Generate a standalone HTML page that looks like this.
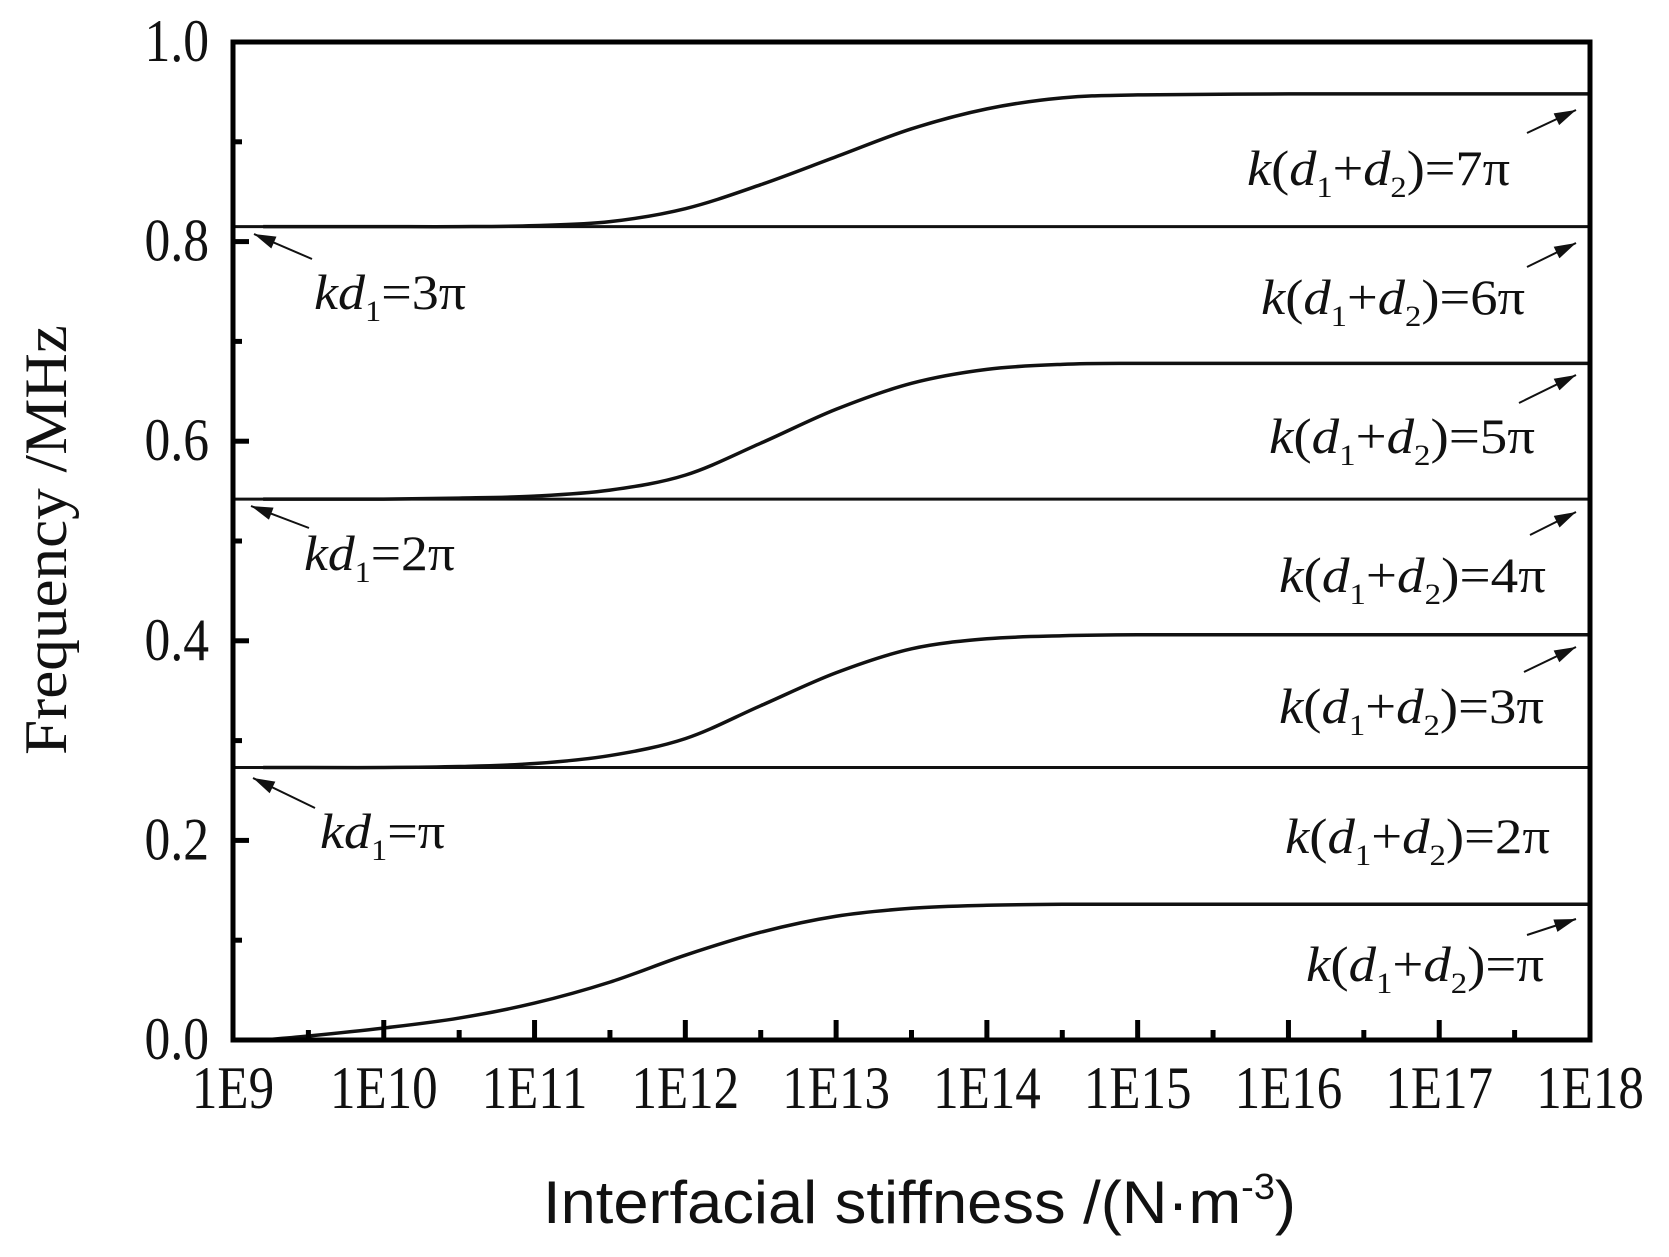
<!DOCTYPE html>
<html><head><meta charset="utf-8"><style>
html,body{margin:0;padding:0;background:#fff;}
svg{display:block;}
.tk{font-family:"Liberation Serif",serif;font-size:60px;fill:#111;}
.an{font-family:"Liberation Serif",serif;font-size:50px;fill:#111;}
</style></head><body>
<svg id="chart" width="1669" height="1257" viewBox="0 0 1669 1257" xmlns="http://www.w3.org/2000/svg">
<defs><marker id="ah" markerWidth="10" markerHeight="8" refX="9" refY="4" orient="auto" markerUnits="userSpaceOnUse"><path d="M0,0 L22,4 L0,8 z" transform="scale(0.45,1)"/></marker>
<marker id="ah2" viewBox="0 0 20 12" markerWidth="26" markerHeight="14" refX="20" refY="6" orient="auto" markerUnits="userSpaceOnUse"><path d="M0,0 L20,6 L0,12 z" fill="#111"/></marker></defs>
<g id="grid"></g>
<g id="marks"></g>
<g id="axes"></g>
<g id="labels"></g>
</svg>
<script>
const xDecades = [9,10,11,12,13,14,15,16,17,18];
const xTickLabels = ["1E9","1E10","1E11","1E12","1E13","1E14","1E15","1E16","1E17","1E18"];
const yTicks = [0,0.2,0.4,0.6,0.8,1.0];
const yTickLabels = ["0.0","0.2","0.4","0.6","0.8","1.0"];
const flatLevels = [0.273,0.542,0.815];
const curveX = [9.2,9.5,10,10.5,11,11.5,12,12.5,13,13.5,14,14.5,15,16,17,18];
const curve1 = [0.0,0.004,0.012,0.022,0.037,0.058,0.085,0.108,0.124,0.132,0.135,0.136,0.136,0.136,0.136,0.136];
const curve2 = [0.273,0.273,0.273,0.274,0.277,0.285,0.302,0.335,0.368,0.392,0.402,0.405,0.406,0.406,0.406,0.406];
const curve3 = [0.542,0.542,0.542,0.543,0.545,0.551,0.566,0.598,0.632,0.658,0.672,0.677,0.678,0.678,0.678,0.678];
const curve4 = [0.815,0.815,0.815,0.815,0.816,0.820,0.833,0.857,0.885,0.913,0.933,0.944,0.947,0.948,0.948,0.948];

const NS="http://www.w3.org/2000/svg";
const X0=233,X1=1590,Y0=1040,Y1=42;
function sx(d){return X0+(d-9)/9*(X1-X0);}
function sy(v){return Y0-v*(Y0-Y1);}
function el(tag,attrs,parent){const e=document.createElementNS(NS,tag);for(const k in attrs)e.setAttribute(k,attrs[k]);parent.appendChild(e);return e;}
const marks=document.getElementById('marks'),axes=document.getElementById('axes'),labels=document.getElementById('labels');

flatLevels.forEach((v,i)=>{
  const l=el('line',{x1:X0,x2:X1,y1:sy(v),y2:sy(v),stroke:'#111','stroke-width':3},marks);
  
  
});
function pathFor(xs,ys){
  const p=xs.map((x,i)=>[sx(x),sy(ys[i])]);
  let d='M'+p[0][0]+','+p[0][1];
  for(let i=0;i<p.length-1;i++){
    const p0=p[Math.max(0,i-1)],p1=p[i],p2=p[i+1],p3=p[Math.min(p.length-1,i+2)];
    const c1=[p1[0]+(p2[0]-p0[0])/6,p1[1]+(p2[1]-p0[1])/6];
    const c2=[p2[0]-(p3[0]-p1[0])/6,p2[1]-(p3[1]-p1[1])/6];
    d+=' C'+c1.join(',')+' '+c2.join(',')+' '+p2.join(',');
  }
  return d;
}
[curve1,curve2,curve3,curve4].forEach((c,i)=>{
  const p=el('path',{d:pathFor(curveX,c),fill:'none',stroke:'#111','stroke-width':3.5},marks);
  
  
});

// frame
const fr=el('rect',{x:X0,y:Y1,width:X1-X0,height:Y0-Y1,fill:'none',stroke:'#000','stroke-width':5},axes);


// x ticks
xDecades.forEach((d,i)=>{
  el('line',{x1:sx(d),x2:sx(d),y1:Y0,y2:Y0-20,stroke:'#000','stroke-width':5},axes);
  if(i<xDecades.length-1) el('line',{x1:sx(d+0.5),x2:sx(d+0.5),y1:Y0,y2:Y0-10,stroke:'#000','stroke-width':5},axes);
  const t=el('text',{x:0,y:0,'text-anchor':'middle','class':'tk',transform:'translate('+sx(d)+',1108) scale(0.85,1)'},labels);
  t.textContent=xTickLabels[i];
  
  
});
// y ticks
yTicks.forEach((v,i)=>{
  el('line',{x1:X0,x2:X0+16,y1:sy(v),y2:sy(v),stroke:'#000','stroke-width':5},axes);
  if(i<yTicks.length-1) el('line',{x1:X0,x2:X0+9,y1:sy(v+0.1),y2:sy(v+0.1),stroke:'#000','stroke-width':5},axes);
  const t=el('text',{x:0,y:0,'text-anchor':'end','class':'tk',transform:'translate(209,'+(sy(v)+19)+') scale(0.86,1)'},labels);
  t.textContent=yTickLabels[i];
  
  
});
</script>
<svg style="position:absolute;left:0;top:0" width="1669" height="1257" xmlns="http://www.w3.org/2000/svg">
<defs><marker id="arr" viewBox="0 0 20 12" markerWidth="24" markerHeight="13" refX="20" refY="6" orient="auto" markerUnits="userSpaceOnUse"><path d="M0,0 L20,6 L0,12 z" fill="#111"/></marker></defs>
<text x="0" y="0" text-anchor="middle" transform="translate(66,540) rotate(-90)" font-family="Liberation Serif, serif" font-size="60" textLength="430" lengthAdjust="spacingAndGlyphs" fill="#111">Frequency /MHz</text>
<text x="543" y="1223" font-family="Liberation Sans, sans-serif" font-size="60" fill="#111" textLength="753" lengthAdjust="spacingAndGlyphs">Interfacial stiffness /(N·m<tspan dy="-24" font-size="36">-3</tspan><tspan dy="24">)</tspan></text>
<g class="an" font-family="Liberation Serif, serif" font-size="50" fill="#111">
<text x="1247" y="185" textLength="263" lengthAdjust="spacingAndGlyphs"><tspan font-style="italic">k</tspan>(<tspan font-style="italic">d</tspan><tspan dy="12" font-size="30">1</tspan><tspan dy="-12">+</tspan><tspan font-style="italic">d</tspan><tspan dy="12" font-size="30">2</tspan><tspan dy="-12">)=7π</tspan></text>
<text x="1261" y="314" textLength="264" lengthAdjust="spacingAndGlyphs"><tspan font-style="italic">k</tspan>(<tspan font-style="italic">d</tspan><tspan dy="12" font-size="30">1</tspan><tspan dy="-12">+</tspan><tspan font-style="italic">d</tspan><tspan dy="12" font-size="30">2</tspan><tspan dy="-12">)=6π</tspan></text>
<text x="1269" y="453" textLength="266" lengthAdjust="spacingAndGlyphs"><tspan font-style="italic">k</tspan>(<tspan font-style="italic">d</tspan><tspan dy="12" font-size="30">1</tspan><tspan dy="-12">+</tspan><tspan font-style="italic">d</tspan><tspan dy="12" font-size="30">2</tspan><tspan dy="-12">)=5π</tspan></text>
<text x="1279" y="592" textLength="267" lengthAdjust="spacingAndGlyphs"><tspan font-style="italic">k</tspan>(<tspan font-style="italic">d</tspan><tspan dy="12" font-size="30">1</tspan><tspan dy="-12">+</tspan><tspan font-style="italic">d</tspan><tspan dy="12" font-size="30">2</tspan><tspan dy="-12">)=4π</tspan></text>
<text x="1279" y="723" textLength="265" lengthAdjust="spacingAndGlyphs"><tspan font-style="italic">k</tspan>(<tspan font-style="italic">d</tspan><tspan dy="12" font-size="30">1</tspan><tspan dy="-12">+</tspan><tspan font-style="italic">d</tspan><tspan dy="12" font-size="30">2</tspan><tspan dy="-12">)=3π</tspan></text>
<text x="1285" y="853" textLength="265" lengthAdjust="spacingAndGlyphs"><tspan font-style="italic">k</tspan>(<tspan font-style="italic">d</tspan><tspan dy="12" font-size="30">1</tspan><tspan dy="-12">+</tspan><tspan font-style="italic">d</tspan><tspan dy="12" font-size="30">2</tspan><tspan dy="-12">)=2π</tspan></text>
<text x="1306" y="981" textLength="238" lengthAdjust="spacingAndGlyphs"><tspan font-style="italic">k</tspan>(<tspan font-style="italic">d</tspan><tspan dy="12" font-size="30">1</tspan><tspan dy="-12">+</tspan><tspan font-style="italic">d</tspan><tspan dy="12" font-size="30">2</tspan><tspan dy="-12">)=π</tspan></text>
<text x="314" y="309" textLength="152" lengthAdjust="spacingAndGlyphs"><tspan font-style="italic">kd</tspan><tspan dy="12" font-size="30">1</tspan><tspan dy="-12">=3π</tspan></text>
<text x="304" y="570" textLength="151" lengthAdjust="spacingAndGlyphs"><tspan font-style="italic">kd</tspan><tspan dy="12" font-size="30">1</tspan><tspan dy="-12">=2π</tspan></text>
<text x="320" y="848" textLength="125" lengthAdjust="spacingAndGlyphs"><tspan font-style="italic">kd</tspan><tspan dy="12" font-size="30">1</tspan><tspan dy="-12">=π</tspan></text>
</g>
<g stroke="#111" stroke-width="2" marker-end="url(#arr)">
<line x1="1527" y1="133" x2="1576" y2="110"/>
<line x1="1527" y1="267" x2="1576" y2="243"/>
<line x1="1519" y1="403" x2="1576" y2="375"/>
<line x1="1530" y1="535" x2="1576" y2="512"/>
<line x1="1524" y1="672" x2="1576" y2="647"/>
<line x1="1527" y1="935" x2="1576" y2="919"/>
<line x1="312" y1="259" x2="254" y2="234"/>
<line x1="309" y1="528" x2="251" y2="506"/>
<line x1="315" y1="808" x2="253" y2="778"/>
</g>
</svg>
</body></html>
